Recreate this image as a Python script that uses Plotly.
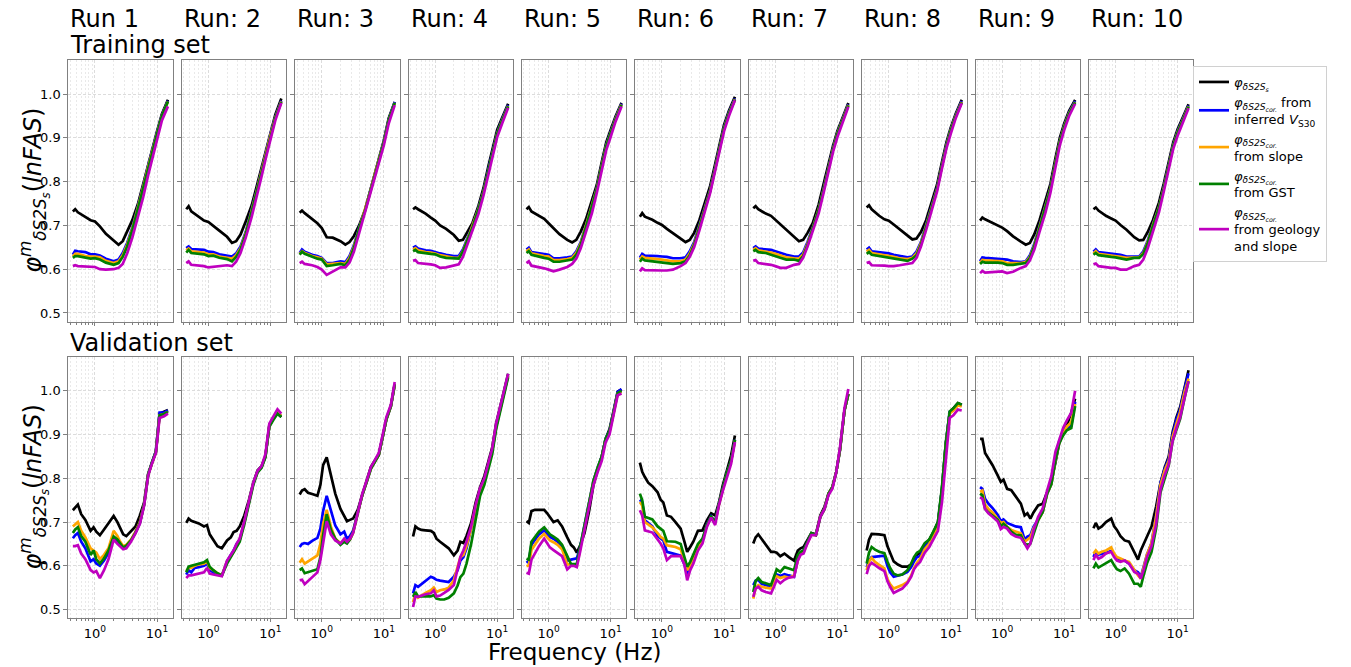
import plotly.graph_objects as go

W, H = 1351, 667

RUNS = ["Run 1", "Run: 2", "Run: 3", "Run: 4", "Run: 5", "Run: 6", "Run: 7", "Run: 8", "Run: 9", "Run: 10"]

# frequency grids (Hz)
FREQ_TR = [0.44, 0.48, 0.53, 0.7, 0.85, 1.0, 1.2, 1.5, 2.0, 2.4, 2.8, 3.3, 4.0, 5.0, 6.0, 7.2, 8.5, 10.0, 12.0, 15.0]
FREQ_VA = [0.44, 0.48, 0.53, 0.6, 0.7, 0.85, 0.95, 1.05, 1.2, 1.4, 1.65, 2.0, 2.3, 2.55, 2.85, 3.2, 3.8, 4.5,
           5.3, 6.2, 7.2, 8.3, 9.6, 11.0, 13.0, 15.0]

# ---------------- Training set ----------------
TR_PHI = [
    [0.732, 0.737, 0.730, 0.720, 0.712, 0.709, 0.698, 0.681, 0.667, 0.656, 0.664, 0.688, 0.712, 0.752, 0.796, 0.841, 0.880, 0.915, 0.955, 0.987],
    [0.737, 0.744, 0.732, 0.719, 0.711, 0.708, 0.698, 0.688, 0.674, 0.660, 0.664, 0.679, 0.709, 0.746, 0.789, 0.833, 0.874, 0.913, 0.953, 0.990],
    [0.729, 0.734, 0.728, 0.715, 0.705, 0.694, 0.673, 0.672, 0.664, 0.656, 0.662, 0.676, 0.700, 0.736, 0.777, 0.823, 0.857, 0.894, 0.945, 0.982],
    [0.737, 0.741, 0.737, 0.727, 0.718, 0.711, 0.700, 0.692, 0.678, 0.665, 0.667, 0.685, 0.706, 0.745, 0.785, 0.835, 0.880, 0.919, 0.946, 0.978],
    [0.737, 0.742, 0.732, 0.722, 0.715, 0.705, 0.694, 0.680, 0.667, 0.661, 0.667, 0.686, 0.714, 0.755, 0.793, 0.845, 0.890, 0.918, 0.949, 0.980],
    [0.720, 0.728, 0.720, 0.713, 0.706, 0.701, 0.692, 0.683, 0.670, 0.662, 0.667, 0.683, 0.712, 0.755, 0.791, 0.840, 0.885, 0.930, 0.962, 0.994],
    [0.739, 0.744, 0.737, 0.727, 0.722, 0.713, 0.702, 0.689, 0.673, 0.664, 0.667, 0.683, 0.705, 0.748, 0.795, 0.843, 0.882, 0.916, 0.946, 0.980],
    [0.741, 0.746, 0.737, 0.722, 0.714, 0.711, 0.702, 0.691, 0.675, 0.668, 0.670, 0.685, 0.712, 0.755, 0.793, 0.845, 0.890, 0.924, 0.955, 0.987],
    [0.711, 0.718, 0.714, 0.705, 0.700, 0.695, 0.687, 0.675, 0.663, 0.656, 0.660, 0.680, 0.712, 0.757, 0.795, 0.853, 0.900, 0.933, 0.962, 0.987],
    [0.737, 0.741, 0.734, 0.722, 0.716, 0.711, 0.701, 0.690, 0.673, 0.666, 0.667, 0.685, 0.712, 0.752, 0.796, 0.847, 0.890, 0.920, 0.944, 0.977],
]
TR_VS30 = [
    [0.633, 0.642, 0.641, 0.639, 0.634, 0.634, 0.631, 0.624, 0.618, 0.622, 0.637, 0.660, 0.695, 0.745, 0.790, 0.836, 0.877, 0.912, 0.952, 0.985],
    [0.648, 0.652, 0.646, 0.645, 0.644, 0.640, 0.639, 0.634, 0.631, 0.629, 0.636, 0.652, 0.685, 0.735, 0.780, 0.826, 0.868, 0.908, 0.948, 0.985],
    [0.637, 0.645, 0.640, 0.633, 0.630, 0.626, 0.614, 0.614, 0.618, 0.616, 0.630, 0.655, 0.695, 0.736, 0.777, 0.820, 0.855, 0.892, 0.942, 0.982],
    [0.649, 0.652, 0.647, 0.643, 0.642, 0.640, 0.636, 0.633, 0.630, 0.630, 0.645, 0.670, 0.700, 0.740, 0.778, 0.828, 0.873, 0.912, 0.942, 0.975],
    [0.645, 0.649, 0.639, 0.636, 0.635, 0.633, 0.625, 0.625, 0.627, 0.629, 0.641, 0.662, 0.700, 0.745, 0.786, 0.838, 0.884, 0.913, 0.945, 0.978],
    [0.626, 0.635, 0.631, 0.631, 0.630, 0.629, 0.628, 0.625, 0.625, 0.627, 0.641, 0.662, 0.700, 0.745, 0.782, 0.832, 0.878, 0.924, 0.958, 0.990],
    [0.648, 0.652, 0.647, 0.646, 0.644, 0.641, 0.637, 0.633, 0.629, 0.629, 0.638, 0.662, 0.695, 0.738, 0.784, 0.834, 0.876, 0.912, 0.943, 0.977],
    [0.645, 0.649, 0.641, 0.639, 0.638, 0.636, 0.633, 0.630, 0.627, 0.629, 0.640, 0.662, 0.700, 0.745, 0.785, 0.838, 0.884, 0.920, 0.952, 0.984],
    [0.618, 0.627, 0.626, 0.625, 0.624, 0.624, 0.622, 0.618, 0.616, 0.618, 0.632, 0.658, 0.698, 0.745, 0.786, 0.844, 0.893, 0.928, 0.958, 0.984],
    [0.640, 0.645, 0.639, 0.637, 0.636, 0.635, 0.633, 0.629, 0.629, 0.629, 0.641, 0.665, 0.703, 0.742, 0.788, 0.840, 0.884, 0.915, 0.941, 0.974],
]
TR_SLOPE = [
    [0.629, 0.635, 0.635, 0.630, 0.629, 0.629, 0.627, 0.619, 0.614, 0.618, 0.632, 0.656, 0.692, 0.743, 0.788, 0.834, 0.875, 0.910, 0.950, 0.983],
    [0.643, 0.647, 0.641, 0.640, 0.638, 0.634, 0.634, 0.629, 0.626, 0.624, 0.632, 0.648, 0.682, 0.733, 0.778, 0.824, 0.866, 0.906, 0.946, 0.983],
    [0.635, 0.641, 0.637, 0.630, 0.627, 0.624, 0.611, 0.612, 0.614, 0.612, 0.626, 0.652, 0.693, 0.735, 0.776, 0.819, 0.853, 0.890, 0.940, 0.980],
    [0.645, 0.648, 0.643, 0.639, 0.638, 0.636, 0.632, 0.629, 0.626, 0.626, 0.641, 0.667, 0.698, 0.738, 0.776, 0.826, 0.871, 0.910, 0.940, 0.973],
    [0.641, 0.645, 0.636, 0.632, 0.630, 0.629, 0.621, 0.621, 0.623, 0.626, 0.637, 0.659, 0.698, 0.743, 0.784, 0.836, 0.882, 0.911, 0.943, 0.976],
    [0.622, 0.629, 0.626, 0.625, 0.623, 0.622, 0.620, 0.618, 0.618, 0.622, 0.636, 0.658, 0.697, 0.743, 0.780, 0.830, 0.876, 0.922, 0.956, 0.988],
    [0.644, 0.648, 0.643, 0.641, 0.638, 0.635, 0.631, 0.627, 0.625, 0.624, 0.634, 0.658, 0.693, 0.737, 0.782, 0.832, 0.874, 0.910, 0.941, 0.975],
    [0.640, 0.644, 0.637, 0.634, 0.633, 0.631, 0.628, 0.625, 0.623, 0.626, 0.636, 0.659, 0.698, 0.743, 0.783, 0.836, 0.882, 0.918, 0.950, 0.982],
    [0.614, 0.621, 0.620, 0.619, 0.619, 0.618, 0.614, 0.614, 0.614, 0.616, 0.628, 0.655, 0.696, 0.743, 0.784, 0.842, 0.891, 0.926, 0.956, 0.982],
    [0.636, 0.641, 0.635, 0.633, 0.632, 0.631, 0.628, 0.626, 0.627, 0.627, 0.637, 0.662, 0.701, 0.741, 0.786, 0.838, 0.882, 0.913, 0.939, 0.972],
]
TR_GST = [
    [0.626, 0.630, 0.630, 0.626, 0.624, 0.625, 0.622, 0.615, 0.610, 0.614, 0.628, 0.652, 0.690, 0.742, 0.787, 0.833, 0.874, 0.909, 0.950, 0.983],
    [0.638, 0.644, 0.637, 0.636, 0.634, 0.630, 0.631, 0.626, 0.623, 0.618, 0.628, 0.645, 0.680, 0.732, 0.777, 0.823, 0.865, 0.905, 0.945, 0.982],
    [0.633, 0.640, 0.635, 0.628, 0.624, 0.622, 0.607, 0.609, 0.612, 0.609, 0.622, 0.649, 0.692, 0.734, 0.775, 0.818, 0.852, 0.889, 0.940, 0.980],
    [0.641, 0.644, 0.639, 0.636, 0.635, 0.634, 0.629, 0.626, 0.624, 0.624, 0.640, 0.665, 0.696, 0.737, 0.775, 0.825, 0.870, 0.909, 0.939, 0.972],
    [0.637, 0.641, 0.633, 0.628, 0.626, 0.624, 0.617, 0.617, 0.619, 0.622, 0.633, 0.656, 0.696, 0.742, 0.783, 0.835, 0.881, 0.910, 0.942, 0.975],
    [0.617, 0.624, 0.620, 0.618, 0.617, 0.616, 0.614, 0.612, 0.614, 0.618, 0.632, 0.655, 0.695, 0.742, 0.779, 0.829, 0.875, 0.921, 0.955, 0.987],
    [0.641, 0.644, 0.639, 0.637, 0.633, 0.629, 0.626, 0.622, 0.622, 0.619, 0.630, 0.655, 0.691, 0.736, 0.781, 0.831, 0.873, 0.909, 0.940, 0.974],
    [0.635, 0.639, 0.633, 0.630, 0.628, 0.627, 0.624, 0.621, 0.619, 0.624, 0.632, 0.656, 0.696, 0.742, 0.782, 0.835, 0.881, 0.917, 0.949, 0.981],
    [0.612, 0.617, 0.615, 0.616, 0.615, 0.614, 0.610, 0.610, 0.612, 0.614, 0.626, 0.653, 0.694, 0.742, 0.783, 0.841, 0.890, 0.925, 0.955, 0.981],
    [0.633, 0.637, 0.632, 0.629, 0.628, 0.627, 0.624, 0.622, 0.626, 0.626, 0.635, 0.660, 0.699, 0.740, 0.785, 0.837, 0.881, 0.912, 0.938, 0.971],
]
TR_GEOSLOPE = [
    [0.607, 0.609, 0.607, 0.606, 0.606, 0.605, 0.600, 0.599, 0.600, 0.603, 0.612, 0.636, 0.672, 0.720, 0.765, 0.815, 0.858, 0.895, 0.940, 0.972],
    [0.614, 0.618, 0.610, 0.608, 0.607, 0.604, 0.605, 0.607, 0.609, 0.607, 0.617, 0.637, 0.672, 0.720, 0.763, 0.812, 0.856, 0.897, 0.940, 0.980],
    [0.614, 0.617, 0.612, 0.609, 0.605, 0.599, 0.587, 0.594, 0.604, 0.604, 0.615, 0.640, 0.683, 0.727, 0.768, 0.811, 0.846, 0.883, 0.933, 0.975],
    [0.619, 0.621, 0.614, 0.613, 0.611, 0.609, 0.603, 0.604, 0.609, 0.611, 0.628, 0.655, 0.688, 0.727, 0.768, 0.818, 0.863, 0.902, 0.933, 0.969],
    [0.614, 0.618, 0.608, 0.605, 0.602, 0.599, 0.595, 0.599, 0.605, 0.612, 0.624, 0.648, 0.685, 0.728, 0.775, 0.827, 0.872, 0.902, 0.937, 0.972],
    [0.595, 0.602, 0.598, 0.597, 0.597, 0.597, 0.597, 0.599, 0.607, 0.614, 0.628, 0.650, 0.688, 0.735, 0.775, 0.825, 0.870, 0.915, 0.950, 0.986],
    [0.619, 0.621, 0.614, 0.612, 0.610, 0.607, 0.603, 0.603, 0.610, 0.612, 0.626, 0.652, 0.685, 0.728, 0.775, 0.825, 0.868, 0.902, 0.935, 0.971],
    [0.614, 0.616, 0.609, 0.609, 0.608, 0.607, 0.607, 0.609, 0.612, 0.614, 0.626, 0.652, 0.690, 0.735, 0.777, 0.830, 0.876, 0.910, 0.945, 0.979],
    [0.591, 0.596, 0.592, 0.594, 0.595, 0.595, 0.591, 0.594, 0.603, 0.607, 0.620, 0.645, 0.685, 0.730, 0.775, 0.835, 0.883, 0.918, 0.950, 0.978],
    [0.611, 0.613, 0.607, 0.604, 0.603, 0.603, 0.599, 0.599, 0.607, 0.610, 0.622, 0.648, 0.688, 0.730, 0.778, 0.830, 0.875, 0.905, 0.933, 0.968],
]

# ---------------- Validation set ----------------
VA_PHI = [
    [0.727, 0.733, 0.740, 0.718, 0.705, 0.680, 0.688, 0.678, 0.670, 0.683, 0.698, 0.714, 0.700, 0.688, 0.672, 0.668, 0.678, 0.690, 0.715, 0.745, 0.810, 0.838, 0.862, 0.948, 0.952, 0.956],
    [0.698, 0.708, 0.703, 0.700, 0.697, 0.690, 0.693, 0.672, 0.660, 0.645, 0.640, 0.658, 0.665, 0.677, 0.680, 0.690, 0.715, 0.750, 0.790, 0.818, 0.828, 0.850, 0.920, 0.938, 0.948, 0.940],
    [0.763, 0.772, 0.775, 0.767, 0.764, 0.760, 0.785, 0.830, 0.848, 0.805, 0.765, 0.730, 0.712, 0.702, 0.705, 0.708, 0.728, 0.765, 0.795, 0.826, 0.840, 0.855, 0.895, 0.935, 0.965, 1.015],
    [0.667, 0.690, 0.685, 0.682, 0.681, 0.680, 0.675, 0.662, 0.655, 0.648, 0.640, 0.624, 0.635, 0.655, 0.652, 0.668, 0.698, 0.745, 0.780, 0.805, 0.838, 0.870, 0.925, 0.960, 1.000, 1.039],
    [0.702, 0.698, 0.725, 0.728, 0.728, 0.728, 0.720, 0.712, 0.700, 0.704, 0.690, 0.665, 0.648, 0.642, 0.630, 0.645, 0.675, 0.725, 0.785, 0.820, 0.850, 0.890, 0.912, 0.950, 0.998, 1.003],
    [0.836, 0.815, 0.803, 0.790, 0.782, 0.768, 0.751, 0.745, 0.715, 0.712, 0.700, 0.685, 0.655, 0.632, 0.643, 0.655, 0.680, 0.681, 0.704, 0.720, 0.715, 0.745, 0.785, 0.818, 0.852, 0.898],
    [0.651, 0.665, 0.672, 0.662, 0.648, 0.632, 0.632, 0.630, 0.622, 0.628, 0.620, 0.612, 0.635, 0.640, 0.643, 0.655, 0.675, 0.672, 0.715, 0.735, 0.765, 0.780, 0.815, 0.865, 0.955, 0.993],
    [0.635, 0.660, 0.673, 0.673, 0.672, 0.670, 0.645, 0.630, 0.610, 0.603, 0.598, 0.598, 0.603, 0.613, 0.625, 0.630, 0.645, 0.660, 0.678, 0.700, 0.775, 0.880, 0.950, 0.960, 0.972, 0.968],
    [0.890, 0.890, 0.858, 0.845, 0.830, 0.806, 0.792, 0.797, 0.776, 0.773, 0.760, 0.742, 0.715, 0.720, 0.708, 0.722, 0.738, 0.742, 0.768, 0.795, 0.835, 0.880, 0.905, 0.921, 0.950, 0.982],
    [0.686, 0.698, 0.685, 0.690, 0.700, 0.708, 0.690, 0.682, 0.668, 0.658, 0.655, 0.633, 0.614, 0.635, 0.650, 0.665, 0.690, 0.735, 0.790, 0.825, 0.850, 0.905, 0.940, 0.963, 1.012, 1.047],
]
VA_VS30 = [
    [0.663, 0.670, 0.675, 0.655, 0.640, 0.610, 0.615, 0.605, 0.600, 0.612, 0.630, 0.665, 0.655, 0.648, 0.641, 0.646, 0.658, 0.676, 0.698, 0.740, 0.808, 0.836, 0.862, 0.950, 0.950, 0.955],
    [0.580, 0.590, 0.585, 0.595, 0.597, 0.600, 0.605, 0.590, 0.585, 0.580, 0.578, 0.610, 0.625, 0.635, 0.650, 0.660, 0.700, 0.745, 0.788, 0.815, 0.826, 0.850, 0.920, 0.935, 0.948, 0.942],
    [0.643, 0.650, 0.652, 0.650, 0.657, 0.664, 0.685, 0.725, 0.760, 0.725, 0.692, 0.672, 0.678, 0.662, 0.668, 0.680, 0.722, 0.762, 0.792, 0.822, 0.838, 0.853, 0.895, 0.935, 0.965, 1.015],
    [0.537, 0.556, 0.552, 0.558, 0.566, 0.575, 0.572, 0.568, 0.566, 0.565, 0.563, 0.575, 0.590, 0.612, 0.620, 0.640, 0.685, 0.735, 0.775, 0.795, 0.830, 0.862, 0.918, 0.955, 0.997, 1.035],
    [0.607, 0.611, 0.648, 0.660, 0.672, 0.681, 0.672, 0.666, 0.662, 0.655, 0.644, 0.612, 0.614, 0.616, 0.617, 0.640, 0.690, 0.740, 0.795, 0.825, 0.850, 0.890, 0.908, 0.947, 0.998, 1.004],
    [0.751, 0.745, 0.704, 0.698, 0.690, 0.668, 0.662, 0.658, 0.632, 0.629, 0.626, 0.623, 0.603, 0.580, 0.597, 0.615, 0.645, 0.658, 0.695, 0.713, 0.700, 0.742, 0.776, 0.810, 0.840, 0.888],
    [0.556, 0.566, 0.568, 0.559, 0.556, 0.552, 0.565, 0.580, 0.577, 0.581, 0.578, 0.575, 0.615, 0.630, 0.635, 0.650, 0.673, 0.670, 0.712, 0.730, 0.765, 0.780, 0.815, 0.865, 0.955, 0.993],
    [0.597, 0.612, 0.620, 0.621, 0.622, 0.623, 0.600, 0.585, 0.575, 0.577, 0.580, 0.586, 0.597, 0.610, 0.620, 0.622, 0.645, 0.655, 0.675, 0.695, 0.775, 0.878, 0.952, 0.958, 0.970, 0.966],
    [0.780, 0.776, 0.753, 0.742, 0.732, 0.716, 0.702, 0.706, 0.698, 0.694, 0.690, 0.688, 0.660, 0.667, 0.670, 0.689, 0.705, 0.723, 0.765, 0.787, 0.840, 0.885, 0.905, 0.915, 0.920, 0.975],
    [0.620, 0.632, 0.626, 0.628, 0.629, 0.634, 0.624, 0.618, 0.614, 0.612, 0.605, 0.590, 0.585, 0.575, 0.600, 0.625, 0.652, 0.715, 0.790, 0.822, 0.845, 0.900, 0.935, 0.958, 1.005, 1.040],
]
VA_SLOPE = [
    [0.690, 0.695, 0.700, 0.680, 0.665, 0.640, 0.635, 0.630, 0.615, 0.625, 0.640, 0.680, 0.668, 0.655, 0.645, 0.648, 0.660, 0.678, 0.700, 0.740, 0.808, 0.836, 0.860, 0.944, 0.947, 0.952],
    [0.588, 0.595, 0.595, 0.600, 0.603, 0.605, 0.610, 0.595, 0.590, 0.583, 0.578, 0.610, 0.622, 0.632, 0.648, 0.660, 0.700, 0.745, 0.788, 0.815, 0.826, 0.850, 0.920, 0.935, 0.950, 0.943],
    [0.607, 0.615, 0.605, 0.610, 0.617, 0.624, 0.650, 0.695, 0.728, 0.690, 0.662, 0.652, 0.657, 0.655, 0.660, 0.675, 0.720, 0.762, 0.792, 0.822, 0.838, 0.853, 0.895, 0.935, 0.965, 1.015],
    [0.517, 0.537, 0.527, 0.532, 0.538, 0.544, 0.550, 0.540, 0.544, 0.546, 0.550, 0.567, 0.595, 0.620, 0.625, 0.645, 0.685, 0.735, 0.775, 0.795, 0.830, 0.862, 0.918, 0.955, 0.997, 1.035],
    [0.599, 0.601, 0.636, 0.648, 0.662, 0.673, 0.665, 0.658, 0.654, 0.648, 0.638, 0.603, 0.604, 0.601, 0.599, 0.635, 0.688, 0.738, 0.793, 0.823, 0.848, 0.888, 0.905, 0.944, 0.994, 0.998],
    [0.746, 0.738, 0.700, 0.695, 0.688, 0.675, 0.666, 0.662, 0.647, 0.645, 0.643, 0.638, 0.612, 0.590, 0.601, 0.618, 0.645, 0.658, 0.692, 0.712, 0.698, 0.740, 0.774, 0.808, 0.838, 0.886],
    [0.525, 0.550, 0.556, 0.552, 0.550, 0.548, 0.562, 0.576, 0.572, 0.575, 0.573, 0.578, 0.612, 0.628, 0.632, 0.649, 0.672, 0.670, 0.712, 0.730, 0.765, 0.780, 0.815, 0.865, 0.955, 0.993],
    [0.590, 0.610, 0.618, 0.609, 0.602, 0.594, 0.570, 0.558, 0.548, 0.552, 0.556, 0.563, 0.578, 0.595, 0.607, 0.616, 0.638, 0.650, 0.672, 0.692, 0.770, 0.875, 0.948, 0.955, 0.967, 0.964],
    [0.769, 0.772, 0.740, 0.730, 0.722, 0.708, 0.698, 0.700, 0.689, 0.682, 0.678, 0.674, 0.655, 0.660, 0.665, 0.685, 0.705, 0.723, 0.765, 0.787, 0.840, 0.882, 0.902, 0.918, 0.928, 0.970],
    [0.628, 0.635, 0.628, 0.632, 0.635, 0.642, 0.628, 0.620, 0.617, 0.612, 0.609, 0.590, 0.578, 0.571, 0.600, 0.625, 0.652, 0.712, 0.785, 0.818, 0.840, 0.895, 0.925, 0.952, 0.998, 1.028],
]
VA_GST = [
    [0.675, 0.683, 0.688, 0.668, 0.655, 0.625, 0.635, 0.615, 0.605, 0.617, 0.635, 0.667, 0.660, 0.650, 0.642, 0.646, 0.658, 0.676, 0.698, 0.740, 0.808, 0.836, 0.860, 0.944, 0.947, 0.952],
    [0.585, 0.598, 0.600, 0.602, 0.604, 0.608, 0.613, 0.598, 0.590, 0.583, 0.578, 0.605, 0.620, 0.630, 0.643, 0.655, 0.695, 0.740, 0.785, 0.813, 0.824, 0.848, 0.918, 0.932, 0.948, 0.940],
    [0.590, 0.594, 0.583, 0.585, 0.588, 0.592, 0.620, 0.670, 0.718, 0.683, 0.662, 0.648, 0.655, 0.651, 0.660, 0.677, 0.720, 0.762, 0.792, 0.822, 0.838, 0.853, 0.895, 0.935, 0.965, 1.015],
    [0.529, 0.540, 0.530, 0.530, 0.530, 0.530, 0.533, 0.525, 0.523, 0.523, 0.527, 0.537, 0.555, 0.574, 0.582, 0.605, 0.650, 0.705, 0.760, 0.785, 0.822, 0.855, 0.912, 0.950, 0.992, 1.031],
    [0.616, 0.614, 0.655, 0.665, 0.678, 0.688, 0.680, 0.672, 0.667, 0.660, 0.648, 0.620, 0.604, 0.604, 0.604, 0.640, 0.690, 0.740, 0.795, 0.825, 0.850, 0.890, 0.908, 0.945, 0.995, 1.000],
    [0.765, 0.750, 0.712, 0.710, 0.706, 0.690, 0.685, 0.680, 0.656, 0.656, 0.655, 0.650, 0.620, 0.598, 0.609, 0.625, 0.650, 0.662, 0.693, 0.712, 0.700, 0.742, 0.776, 0.810, 0.840, 0.888],
    [0.540, 0.565, 0.572, 0.563, 0.560, 0.556, 0.575, 0.592, 0.586, 0.597, 0.594, 0.590, 0.625, 0.632, 0.635, 0.651, 0.675, 0.670, 0.712, 0.730, 0.765, 0.780, 0.815, 0.865, 0.955, 0.993],
    [0.605, 0.630, 0.643, 0.637, 0.632, 0.629, 0.610, 0.595, 0.582, 0.578, 0.580, 0.590, 0.605, 0.620, 0.630, 0.634, 0.652, 0.660, 0.680, 0.700, 0.780, 0.880, 0.953, 0.960, 0.972, 0.968],
    [0.765, 0.761, 0.730, 0.722, 0.715, 0.705, 0.690, 0.696, 0.689, 0.678, 0.671, 0.670, 0.651, 0.647, 0.651, 0.674, 0.704, 0.723, 0.765, 0.787, 0.840, 0.880, 0.898, 0.910, 0.915, 0.965],
    [0.594, 0.605, 0.596, 0.600, 0.605, 0.613, 0.601, 0.592, 0.588, 0.594, 0.582, 0.559, 0.559, 0.552, 0.580, 0.605, 0.632, 0.685, 0.768, 0.800, 0.830, 0.885, 0.912, 0.936, 0.985, 1.022],
]
VA_GEOSLOPE = [
    [0.645, 0.645, 0.647, 0.628, 0.615, 0.590, 0.585, 0.588, 0.572, 0.590, 0.615, 0.660, 0.650, 0.645, 0.638, 0.640, 0.655, 0.674, 0.696, 0.738, 0.806, 0.834, 0.858, 0.938, 0.942, 0.948],
    [0.572, 0.578, 0.578, 0.580, 0.582, 0.585, 0.595, 0.582, 0.580, 0.578, 0.576, 0.612, 0.625, 0.635, 0.650, 0.662, 0.702, 0.748, 0.790, 0.817, 0.828, 0.855, 0.925, 0.940, 0.958, 0.948],
    [0.567, 0.568, 0.558, 0.565, 0.575, 0.585, 0.613, 0.655, 0.702, 0.672, 0.658, 0.651, 0.662, 0.655, 0.662, 0.675, 0.722, 0.765, 0.795, 0.826, 0.842, 0.858, 0.900, 0.940, 0.968, 1.020],
    [0.506, 0.530, 0.529, 0.532, 0.535, 0.537, 0.544, 0.530, 0.532, 0.538, 0.545, 0.556, 0.590, 0.620, 0.635, 0.655, 0.690, 0.740, 0.778, 0.800, 0.835, 0.868, 0.925, 0.960, 1.000, 1.039],
    [0.584, 0.582, 0.614, 0.628, 0.645, 0.662, 0.650, 0.642, 0.636, 0.630, 0.622, 0.592, 0.600, 0.600, 0.597, 0.630, 0.685, 0.732, 0.785, 0.815, 0.840, 0.882, 0.900, 0.940, 0.990, 0.994],
    [0.727, 0.715, 0.681, 0.679, 0.676, 0.660, 0.651, 0.640, 0.613, 0.622, 0.622, 0.622, 0.603, 0.567, 0.590, 0.605, 0.635, 0.651, 0.689, 0.710, 0.693, 0.739, 0.772, 0.802, 0.833, 0.883],
    [0.529, 0.548, 0.552, 0.544, 0.540, 0.537, 0.552, 0.568, 0.560, 0.568, 0.573, 0.575, 0.612, 0.625, 0.628, 0.647, 0.670, 0.670, 0.712, 0.730, 0.762, 0.776, 0.815, 0.870, 0.960, 1.004],
    [0.581, 0.600, 0.607, 0.601, 0.595, 0.588, 0.565, 0.552, 0.538, 0.543, 0.548, 0.561, 0.575, 0.592, 0.602, 0.609, 0.630, 0.643, 0.662, 0.680, 0.745, 0.850, 0.938, 0.944, 0.957, 0.955],
    [0.757, 0.753, 0.730, 0.720, 0.712, 0.701, 0.684, 0.689, 0.685, 0.673, 0.667, 0.664, 0.651, 0.640, 0.651, 0.681, 0.712, 0.731, 0.772, 0.805, 0.860, 0.890, 0.915, 0.932, 0.950, 1.000],
    [0.613, 0.626, 0.616, 0.620, 0.628, 0.632, 0.620, 0.612, 0.609, 0.612, 0.605, 0.586, 0.582, 0.571, 0.592, 0.620, 0.645, 0.695, 0.775, 0.808, 0.832, 0.885, 0.915, 0.940, 0.985, 1.022],
]

SERIES_NAMES = [
    "<i>φ</i><sub><i>δS2S</i><sub><i>s</i></sub></sub>",
    "<i>φ</i><sub><i>δS2S</i><sub><i>cor.</i></sub></sub> from<br>inferred <i>V</i><sub>S30</sub>",
    "<i>φ</i><sub><i>δS2S</i><sub><i>cor.</i></sub></sub><br>from slope",
    "<i>φ</i><sub><i>δS2S</i><sub><i>cor.</i></sub></sub><br>from GST",
    "<i>φ</i><sub><i>δS2S</i><sub><i>cor.</i></sub></sub><br>from geology<br>and slope",
]
COLORS = ["#000000", "#0000ff", "#ffa500", "#008000", "#bf00bf"]

MAJOR_X = [1, 10]
MAJOR_X_TEXT = ["10<sup>0</sup>", "10<sup>1</sup>"]
MINOR_X = [0.4, 0.5, 0.6, 0.7, 0.8, 0.9, 2, 3, 4, 5, 6, 7, 8, 9]
Y_TICKS = [0.5, 0.6, 0.7, 0.8, 0.9, 1.0]
Y_TICK_TEXT = ["0.5", "0.6", "0.7", "0.8", "0.9", "1.0"]

# ---------------- layout geometry (pixels) ----------------
COL_LEFT0, COL_STEP, COL_W = 68.3, 113.4, 104.4
ROWS_PX = [(60.0, 321.7), (356.7, 618.3)]

fig = go.Figure()
FONT = "DejaVu Sans, Verdana, sans-serif"
GRID = "#dcdcdc"
GRID_MINOR = "#e9e9e9"
FRAME = "#808080"

rows_data = [
    (FREQ_TR, [TR_PHI, TR_VS30, TR_SLOPE, TR_GST, TR_GEOSLOPE]),
    (FREQ_VA, [VA_PHI, VA_VS30, VA_SLOPE, VA_GST, VA_GEOSLOPE]),
]

layout = {}
k = 0
for r, (freq, series) in enumerate(rows_data):
    top, bot = ROWS_PX[r]
    for c in range(10):
        k += 1
        sfx = "" if k == 1 else str(k)
        left = COL_LEFT0 + c * COL_STEP
        right = left + COL_W
        for s in range(5):
            fig.add_trace(go.Scatter(
                x=freq, y=series[s][c], mode="lines",
                line=dict(color=COLORS[s], width=2.7),
                name=SERIES_NAMES[s], showlegend=(k == 1),
                xaxis="x" + sfx, yaxis="y" + sfx,
            ))
        layout["xaxis" + sfx] = dict(
            domain=[left / W, right / W], anchor="y" + sfx, type="log",
            range=[-0.43, 1.253], tickvals=MAJOR_X, ticktext=MAJOR_X_TEXT,
            showticklabels=(r == 1), ticks="outside", ticklen=3, tickcolor=FRAME,
            showline=True, linecolor=FRAME, linewidth=1, mirror=True,
            showgrid=True, gridcolor=GRID, griddash="3px,2px", gridwidth=1,
            minor=dict(tickvals=MINOR_X, ticks="outside", ticklen=2, tickcolor=FRAME,
                       showgrid=True, gridcolor=GRID_MINOR, griddash="2px,2px", gridwidth=1),
            tickfont=dict(size=13, color="#000000", family=FONT), zeroline=False,
        )
        layout["yaxis" + sfx] = dict(
            domain=[(H - bot) / H, (H - top) / H], anchor="x" + sfx,
            range=[0.48, 1.078], tickvals=Y_TICKS, ticktext=Y_TICK_TEXT,
            showticklabels=(c == 0), ticks="outside", ticklen=4, tickcolor=FRAME,
            showline=True, linecolor=FRAME, linewidth=1, mirror=True,
            showgrid=True, gridcolor=GRID, griddash="3px,2px", gridwidth=1,
            tickfont=dict(size=13, color="#000000", family=FONT), zeroline=False,
        )

ann = []
for c in range(10):
    left = COL_LEFT0 + c * COL_STEP
    ann.append(dict(text=RUNS[c], x=left / W, y=(H - 19) / H, xref="paper", yref="paper",
                    xanchor="left", yanchor="middle", showarrow=False,
                    font=dict(size=24, family=FONT, color="#000")))
ann.append(dict(text="Training set", x=COL_LEFT0 / W, y=(H - 45) / H, xref="paper", yref="paper",
                xanchor="left", yanchor="middle", showarrow=False, font=dict(size=24, family=FONT, color="#000")))
ann.append(dict(text="Validation set", x=COL_LEFT0 / W, y=(H - 343) / H, xref="paper", yref="paper",
                xanchor="left", yanchor="middle", showarrow=False, font=dict(size=24, family=FONT, color="#000")))
YLAB = "<i>φ</i><sup><i>m</i></sup><sub><i>δS2S</i><sub><i>s</i></sub></sub>(<i>lnFAS</i>)"
for (top, bot) in ROWS_PX:
    ann.append(dict(text=YLAB, x=34 / W, y=(H - (top + bot) / 2) / H, xref="paper", yref="paper",
                    xanchor="center", yanchor="middle", textangle=-90, showarrow=False,
                    font=dict(size=24, family=FONT, color="#000")))
ann.append(dict(text="Frequency (Hz)", x=574 / W, y=(H - 652) / H, xref="paper", yref="paper",
                xanchor="center", yanchor="middle", showarrow=False, font=dict(size=23, family=FONT, color="#000")))

fig.update_layout(
    width=W, height=H, margin=dict(l=0, r=0, t=0, b=0),
    paper_bgcolor="white", plot_bgcolor="white",
    annotations=ann,
    legend=dict(x=1193 / W, y=(H - 66) / H, xanchor="left", yanchor="top",
                bordercolor="#d0d0d0", borderwidth=1, bgcolor="white",
                font=dict(size=13, family=FONT, color="#000"), tracegroupgap=4),
    **layout,
)

fig.write_html("out.html", config={"displayModeBar": False},
               post_script="document.body.style.margin='0';document.body.style.padding='0';")
